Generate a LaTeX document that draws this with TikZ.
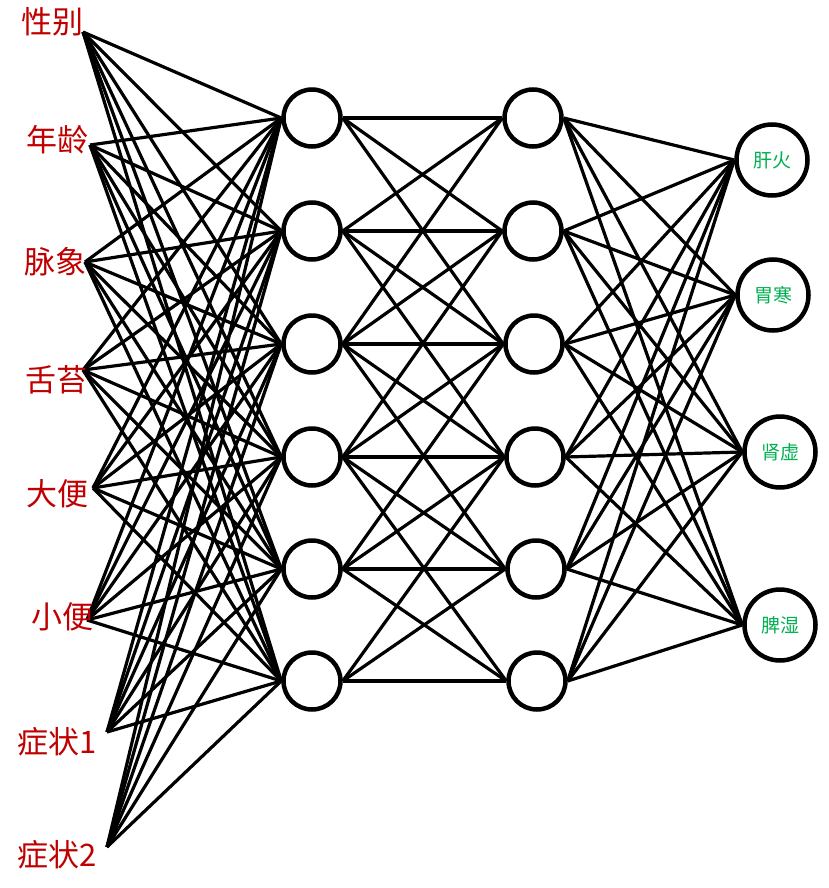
\documentclass[tikz,border=0pt]{standalone}
\usepackage{fontspec}
\setmainfont{Noto Sans CJK SC}
\usetikzlibrary{positioning, backgrounds}
\definecolor{inred}{HTML}{C00000}
\definecolor{outgreen}{HTML}{00B050}
\tikzset{%
	neuron/.style={draw, circle, line width=4.5pt, minimum size=57pt, inner sep=0pt},
	outnode/.style={draw, circle, line width=4.5pt, minimum size=71pt, inner sep=0pt,%
		font=\fontsize{19}{19}\selectfont, text=outgreen},
	feature/.style={inner sep=0pt, font=\fontsize{31}{31}\selectfont, text=inred},
	connector/.style={line width=3.2pt}
}

\begin{document}
\begin{tikzpicture}[x=1pt, y=-1pt]
	\useasboundingbox (0,0) rectangle (828,888);

	%input features
	\node[feature] (f1) at (52,22)  {性别};
	\node[feature] (f2) at (57,140) {年龄};
	\node[feature] (f3) at (55,262) {脉象};
	\node[feature] (f4) at (56,380) {舌苔};
	\node[feature] (f5) at (57,494) {大便};
	\node[feature] (f6) at (62,617) {小便};
	\node[feature] (f7) at (57,742) {症状1};
	\node[feature] (f8) at (57,855) {症状2};

	\coordinate (in1) at (83,32);
	\coordinate (in2) at (90,145);
	\coordinate (in3) at (85,262);
	\coordinate (in4) at (83,370);
	\coordinate (in5) at (93,488);
	\coordinate (in6) at (87,620);
	\coordinate (in7) at (107,732);
	\coordinate (in8) at (107,847);

	%first hidden layer
	\node[neuron] (h1-1) at (312,118) {};
	\node[neuron] (h1-2) at (312,231) {};
	\node[neuron] (h1-3) at (312,344) {};
	\node[neuron] (h1-4) at (312,457) {};
	\node[neuron] (h1-5) at (312,569) {};
	\node[neuron] (h1-6) at (312,681) {};

	%second hidden layer
	\node[neuron] (h2-1) at (533,118) {};
	\node[neuron] (h2-2) at (533,231) {};
	\node[neuron] (h2-3) at (534,344) {};
	\node[neuron] (h2-4) at (535,457) {};
	\node[neuron] (h2-5) at (536,569) {};
	\node[neuron] (h2-6) at (537,681) {};

	%outputs
	\node[outnode] (o1) at (772,160) {肝火};
	\node[outnode] (o2) at (773,295) {胃寒};
	\node[outnode] (o3) at (780,452) {肾虚};
	\node[outnode] (o4) at (780,625) {脾湿};

	%connections
	\begin{scope}[on background layer]
		\foreach \i in {1,...,8}
			\foreach \j in {1,...,6}
				\draw[connector] (in\i) -- (h1-\j.west);
		\foreach \i in {1,...,6}
			\foreach \j in {1,...,6}{
				\pgfmathtruncatemacro{\gap}{abs(\i-\j)}
				\ifnum\gap<3 \draw[connector] (h1-\i.east) -- (h2-\j.west);\fi
			}
		\foreach \i in {1,...,6}
			\foreach \j in {1,...,4}
				\draw[connector] (h2-\i.east) -- (o\j.west);
	\end{scope}
\end{tikzpicture}
\end{document}
